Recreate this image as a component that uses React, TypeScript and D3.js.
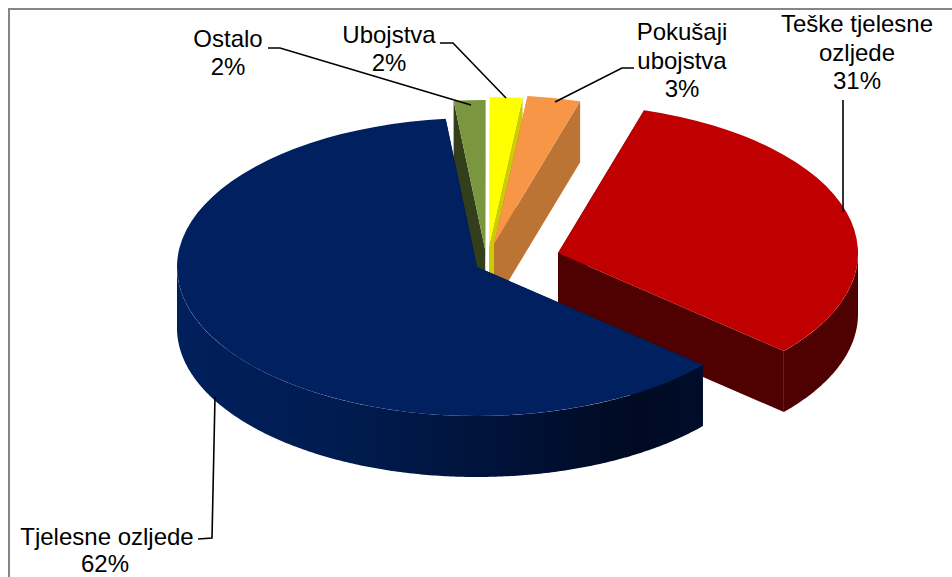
import * as d3 from "d3";

const categories = ["Ostalo", "Ubojstva", "Pokušaji ubojstva", "Teške tjelesne ozljede", "Tjelesne ozljede"];
const shares = [1.7, 1.75, 2.85, 31.8, 61.9];
const percentLabels = ["2%", "2%", "3%", "31%", "62%"];

const topColors = ["#7a963e", "#ffff00", "#f79646", "#c00000", "#002060"];
const wallColors = ["#333f1a", "#cccc00", "#bc7434", "#4f0000", "url(#blueWall)"];
// how far each slice is pulled out of the pie, in px
const offsets = [[7, -18], [11, -21], [16, -23], [80, -14], [-1, 0]];

const labelLines = [["Ostalo"], ["Ubojstva"], ["Pokušaji", "ubojstva"], ["Teške tjelesne", "ozljede"], ["Tjelesne ozljede"]];
const labelPos = [[228, 47], [389, 43], [682, 40], [857, 32], [107, 545]];
const lineSteps = [28, 28, 28.5, 28.5, 27];
const percentShift = [0, 0, 0, 0, -2];
const leaders = [
  [[268, 48], [280, 48], [471, 105]],
  [[440, 43], [453, 43], [506, 98]],
  [[634, 68], [622, 68], [555, 102]],
  [[843, 212], [843, 100]],
  [[215, 397], [212, 538], [198, 539]],
];

const width = 952;
const height = 577;
const cx = 478;
const cy = 267;
const rx = 300;
const ry = 149;
const depth = 61;
const startAngle = (-6 * Math.PI) / 180;

export default function App() {
  const pie = d3.pie<number>().sort(null).startAngle(startAngle).endAngle(startAngle + 2 * Math.PI);
  const slices = pie(shares);
  const arc = d3.arc<d3.PieArcDatum<number>>().innerRadius(0).outerRadius(rx);
  const line = d3.line();

  const rimX = (a: number) => rx * Math.sin(a);
  const rimY = (a: number) => -ry * Math.cos(a);

  const outerWall = d3
    .area<number>()
    .x((a) => rimX(a))
    .y0((a) => rimY(a))
    .y1((a) => rimY(a) + depth);

  const radialWall = (a: number) =>
    line([
      [0, 0],
      [rimX(a), rimY(a)],
      [rimX(a), rimY(a) + depth],
      [0, depth],
    ]) + "Z";

  return (
    <svg
      width={width}
      height={height}
      style={{ position: "absolute", left: 0, top: 0, background: "#fff", fontFamily: "'Liberation Sans', Arial, sans-serif" }}
    >
      <defs>
        {/* user space here is the slice group, so x runs from -rx */}
        <linearGradient id="blueWall" gradientUnits="userSpaceOnUse" x1={-rx} x2={222} y1={0} y2={0}>
          <stop offset="0" stopColor="#00205c" />
          <stop offset="0.3" stopColor="#001c50" />
          <stop offset="0.6" stopColor="#00133a" />
          <stop offset="0.88" stopColor="#000a22" />
          <stop offset="1" stopColor="#000d2a" />
        </linearGradient>
      </defs>

      <rect x={9} y={9} width={width + 20} height={height + 20} fill="#fff" stroke="#868686" strokeWidth={2} />

      {slices.map((d, i) => {
        // only the front half of the rim has a visible outer wall
        const from = Math.max(d.startAngle, Math.PI / 2);
        const to = Math.min(d.endAngle, (3 * Math.PI) / 2);
        const steps = from < to ? d3.range(from, to, 0.01).concat(to) : [];
        return (
          <g key={categories[i]} transform={`translate(${cx + offsets[i][0]},${cy + offsets[i][1]})`}>
            <path d={radialWall(d.startAngle)} fill={wallColors[i]} />
            <path d={radialWall(d.endAngle)} fill={wallColors[i]} />
            {steps.length > 0 && <path d={outerWall(steps) as string} fill={wallColors[i]} />}
            <path d={arc(d) as string} transform={`scale(1,${ry / rx})`} fill={topColors[i]} />
          </g>
        );
      })}

      {leaders.map((pts, i) => (
        <path key={i} d={line(pts as [number, number][]) as string} fill="none" stroke="#000" strokeWidth={1.6} />
      ))}

      {categories.map((name, i) => (
        <text key={name} x={labelPos[i][0]} y={labelPos[i][1]} textAnchor="middle" fontSize={24} fill="#000">
          {labelLines[i].map((t, k) => (
            <tspan key={k} x={labelPos[i][0]} dy={k === 0 ? 0 : lineSteps[i]}>
              {t}
            </tspan>
          ))}
          <tspan x={labelPos[i][0] + percentShift[i]} dy={lineSteps[i]}>
            {percentLabels[i]}
          </tspan>
        </text>
      ))}
    </svg>
  );
}
